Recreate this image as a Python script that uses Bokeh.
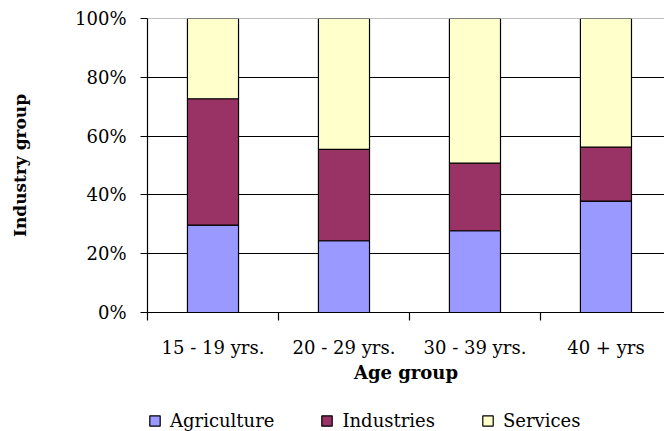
from bokeh.plotting import figure
from bokeh.layouts import column
from bokeh.models import (ColumnDataSource, FixedTicker, NumeralTickFormatter, Span,
                          Legend, LegendItem, Range1d)
from bokeh.embed import file_html
from bokeh.resources import INLINE

categories = ["15 - 19 yrs.", "20 - 29 yrs.", "30 - 39 yrs.", "40 + yrs"]
agriculture = [0.297, 0.244, 0.278, 0.379]
industries = [0.430, 0.311, 0.230, 0.184]
services = [0.273, 0.445, 0.492, 0.437]
series_names = ["Agriculture", "Industries", "Services"]
colors = ["#9999FF", "#993366", "#FFFFCC"]
y_ticks = [0, 0.2, 0.4, 0.6, 0.8, 1.0]

xpos = [i + 0.5 for i in range(len(categories))]
b1 = agriculture
b2 = [a + b for a, b in zip(agriculture, industries)]
b3 = [a + b + c for a, b, c in zip(agriculture, industries, services)]

FONT = "DejaVu Serif"

src = ColumnDataSource(dict(x=xpos, b0=[0] * 4, b1=b1, b2=b2, b3=b3))
w = 0.39


def add_bars(fig):
    rs = []
    for bottom, top, col in (("b0", "b1", colors[0]), ("b1", "b2", colors[1]),
                             ("b2", "b3", colors[2])):
        rs.append(fig.vbar(x="x", bottom=bottom, top=top, width=w, source=src,
                           fill_color=col, line_color="black", line_width=1.2))
    return rs


p = figure(width=664, height=400, output_backend="svg", toolbar_location=None,
           x_range=Range1d(0, 3.947), y_range=Range1d(0, 1),
           min_border_left=147, min_border_top=18, min_border_right=0,
           min_border_bottom=88)
p.outline_line_color = None
add_bars(p)

# grid
p.xgrid.grid_line_color = None
p.ygrid.ticker = FixedTicker(ticks=[0.2, 0.4, 0.6, 0.8])
p.ygrid.grid_line_color = "black"
p.ygrid.grid_line_width = 1.2
p.add_layout(Span(location=1.0, dimension="width", line_color="#808080", line_width=1.2))

# y axis
yax = p.yaxis[0]
yax.ticker = FixedTicker(ticks=y_ticks)
yax.formatter = NumeralTickFormatter(format="0%")
yax.axis_line_color = "black"
yax.axis_line_width = 1.2
yax.major_tick_out = 7
yax.major_tick_in = 0
yax.minor_tick_line_color = None
yax.major_label_standoff = 14
yax.major_label_text_font = FONT
yax.major_label_text_font_size = "18px"
yax.major_label_text_color = "black"
yax.axis_label = "Industry group"
yax.axis_label_text_font = FONT
yax.axis_label_text_font_style = "bold"
yax.axis_label_text_font_size = "17px"
yax.axis_label_text_color = "black"
yax.axis_label_standoff = 42

# x axis
xax = p.xaxis[0]
xax.ticker = FixedTicker(ticks=xpos, minor_ticks=[0, 1, 2, 3])
xax.major_label_overrides = {x: c for x, c in zip(xpos, categories)}
xax.axis_line_color = "black"
xax.axis_line_width = 1.2
xax.major_tick_out = 0
xax.major_tick_in = 0
xax.minor_tick_out = 8
xax.minor_tick_in = 0
xax.minor_tick_line_color = "black"
xax.minor_tick_line_width = 1.2
xax.major_label_standoff = 16
xax.major_label_text_font = FONT
xax.major_label_text_font_size = "18px"
xax.major_label_text_color = "black"
xax.axis_label = "Age group"
xax.axis_label_text_font = FONT
xax.axis_label_text_font_style = "bold"
xax.axis_label_text_font_size = "18px"
xax.axis_label_text_color = "black"
xax.axis_label_standoff = 1

# legend strip (same series, legend only; bars fall outside its range)
pl = figure(width=664, height=31, output_backend="svg", toolbar_location=None,
            x_range=Range1d(0, 3.947), y_range=Range1d(10, 11),
            x_axis_type=None, y_axis_type=None,
            min_border_left=147, min_border_top=0, min_border_right=0,
            min_border_bottom=0)
pl.outline_line_color = None
pl.xgrid.grid_line_color = None
pl.ygrid.grid_line_color = None
lr = add_bars(pl)

legend = Legend(items=[LegendItem(label=n, renderers=[r]) for n, r in zip(series_names, lr)],
                orientation="horizontal", location=(1, 0),
                padding=0, margin=0, spacing=46, label_standoff=9,
                glyph_width=13, glyph_height=13, label_height=20,
                border_line_color=None, background_fill_alpha=0,
                label_text_font=FONT, label_text_font_size="18px",
                label_text_color="black")
pl.add_layout(legend, "center")

layout = column(p, pl, spacing=0)
open("out.html", "w").write(file_html(layout, INLINE))
